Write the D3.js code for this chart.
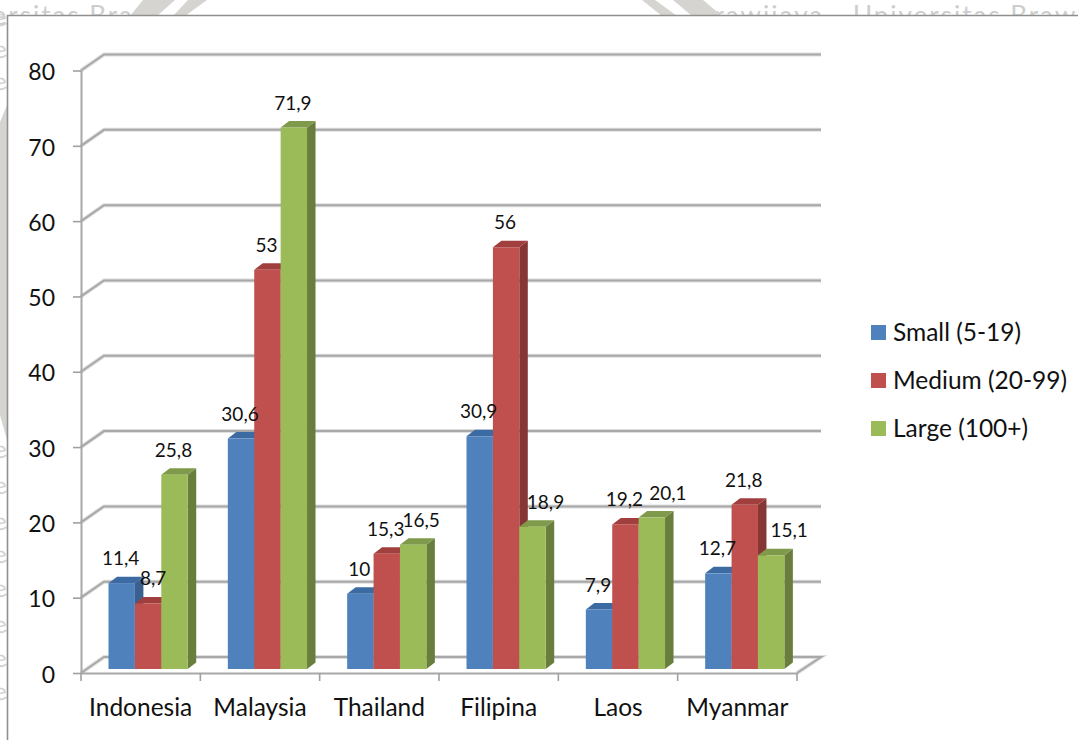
<!DOCTYPE html>
<html>
<head>
<meta charset="utf-8">
<title>Firm size by country</title>
<script src="https://cdn.jsdelivr.net/npm/d3@7"></script>
<style>
  html, body { margin: 0; padding: 0; background: #fff; }
  svg { display: block; }
  text { font-family: Lato, "Noto Sans", sans-serif; fill: #111; }
</style>
</head>
<body>
<svg id="chart" width="1078" height="740"></svg>
<script>
// Chart values
const categories = ["Indonesia", "Malaysia", "Thailand", "Filipina", "Laos", "Myanmar"];
const seriesNames = ["Small (5-19)", "Medium (20-99)", "Large (100+)"];
const small = [11.4, 30.6, 10, 30.9, 7.9, 12.7];
const medium = [8.7, 53, 15.3, 56, 19.2, 21.8];
const large = [25.8, 71.9, 16.5, 18.9, 20.1, 15.1];
const yTicks = [0, 10, 20, 30, 40, 50, 60, 70, 80];

// Fill colours for the front, top and side of each column
const frontColors = ["#4f81bd", "#c0504d", "#9bbb59"];
const topColors = ["#3c6ba3", "#a03f3d", "#7f9a4a"];
const sideColors = ["#39608f", "#863634", "#697d3d"];

const seriesValues = [small, medium, large];
const svg = d3.select("#chart");

// Page furniture behind the chart panel
const furniture = svg.append("g");

[
  ["Universitas Bra", -68],
  ["Brawijaya", 696],
  ["Universitas Brawijaya", 853]
].forEach(([t, x]) => furniture.append("text")
  .attr("x", x).attr("y", 24.5)
  .attr("font-size", 26)
  .attr("letter-spacing", 2)
  .style("fill", "#cdcdcd")
  .text(t));

const bandColor = "#d6d4d1";
[
  [[130, 16], [157, 16], [175, 0], [143, 0]],
  [[173, 16], [185, 16], [207, 0], [188, 0]],
  [[642, 0], [655, 0], [677, 16], [662, 16]],
  [[673, 0], [703, 0], [722, 16], [692, 16]],
  [[0, 122], [7, 105], [7, 440], [0, 415]]
].forEach(p => furniture.append("polygon").attr("points", p.join(" ")).attr("fill", bandColor));

[26, 58, 90, 458, 494, 530, 563, 597, 633, 667, 700].forEach(y =>
  furniture.append("text")
    .attr("transform", `translate(2,${y}) rotate(-12)`)
    .attr("text-anchor", "middle")
    .attr("font-size", 24)
    .style("fill", "#d2d2d2")
    .text("e"));

// Chart panel, open at the right and bottom edges
svg.append("rect").attr("x", 7).attr("y", 15).attr("width", 1071).attr("height", 725).attr("fill", "#fff");
svg.append("path")
  .attr("d", "M7.5,740V15.5H1078")
  .attr("fill", "none")
  .attr("stroke", "#8f8f8f")
  .attr("stroke-width", 1.6);

// Scales: the front plane of the axis box, plus an offset for its back wall
const plotLeft = 81, plotRight = 797, plotZero = 673, plotTop = 70.5;
const wallDx = 23, wallDy = 16;
const columnLift = 4;
const groupInset = 27.5, groupWidth = 79.2;
const depthX = 8.5, depthY = 6.5;

const x0 = d3.scaleBand().domain(categories).range([plotLeft, plotRight]);
const x1 = d3.scaleBand().domain(seriesNames).range([groupInset, groupInset + groupWidth]);
const y = d3.scaleLinear().domain([0, 80]).range([plotZero, plotTop]);

// Back-wall grid lines with the short slanted return to the axis
const grid = svg.append("g").attr("fill", "none");
const gridPath = v => {
  const p = d3.path();
  p.moveTo(plotLeft, y(v));
  p.lineTo(plotLeft + wallDx, y(v) - wallDy);
  p.lineTo(plotRight + wallDx + 1, y(v) - wallDy);
  if (v === 0) p.lineTo(plotRight, y(v));
  return p.toString();
};
[["#dedede", 4], ["#a8a8a8", 2]].forEach(([color, width]) => {
  grid.selectAll(null).data(yTicks).join("path")
    .attr("d", gridPath)
    .attr("stroke", color)
    .attr("stroke-width", width);
});

// Axes
const valueFont = 23, nameFont = 24.5, labelFont = 19;
const styleAxis = (g, size) => {
  g.selectAll(".domain").attr("stroke", "#a8a8a8").attr("stroke-width", 2);
  g.selectAll(".tick line").attr("stroke", "#a0a0a0").attr("stroke-width", 1.6);
  g.selectAll("text").attr("font-size", size).style("font-family", "Lato, sans-serif").style("fill", "#111");
};

const yAxis = svg.append("g")
  .attr("transform", `translate(${plotLeft},0)`)
  .call(d3.axisLeft(y).tickValues(yTicks).tickSize(8).tickPadding(18).tickSizeOuter(0))
  .call(styleAxis, valueFont);
yAxis.selectAll("text").attr("dy", "0.4em");

const xAxis = svg.append("g")
  .attr("transform", `translate(0,${plotZero})`)
  .call(d3.axisBottom(x0).tickSize(0).tickPadding(26))
  .call(styleAxis, nameFont);
xAxis.selectAll(".tick line").remove();
xAxis.selectAll(null)
  .data(categories.concat("end"))
  .join("line")
  .attr("x1", (d, i) => plotLeft + i * x0.step())
  .attr("x2", (d, i) => plotLeft + i * x0.step())
  .attr("y1", 0).attr("y2", 8)
  .attr("stroke", "#a0a0a0").attr("stroke-width", 1.6);

// Columns: each one is a front face with a top and side in perspective
const rows = seriesNames.map((name, s) => categories.map((cat, c) => ({
  cat, name, s, value: seriesValues[s][c]
})));
const columnX = d => x0(d.cat) + x1(d.name);
const columnTop = d => y(d.value) - columnLift;
const columnBase = y(0) - columnLift;
const w = x1.bandwidth();

const columns = svg.append("g");
rows.flat().forEach(d => {
  const g = columns.append("g");
  const l = columnX(d), t = columnTop(d), r = l + w;
  g.append("polygon")
    .attr("points", [[r, t], [r + depthX, t - depthY], [r + depthX, columnBase - depthY], [r, columnBase]].join(" "))
    .attr("fill", sideColors[d.s]);
  g.append("polygon")
    .attr("points", [[l, t], [l + depthX, t - depthY], [r + depthX, t - depthY], [r, t]].join(" "))
    .attr("fill", topColors[d.s]);
  g.append("rect")
    .attr("x", l).attr("y", t)
    .attr("width", w).attr("height", columnBase - t)
    .attr("fill", frontColors[d.s]);
});

// Value labels with a decimal comma; a few are pushed sideways to clear their neighbours
const labelShift = new Map([
  ["Indonesia|Medium (20-99)", 6],
  ["Thailand|Large (100+)", 9],
  ["Filipina|Large (100+)", 14],
  ["Laos|Large (100+)", 17],
  ["Myanmar|Large (100+)", 19]
]);
svg.append("g").selectAll("text")
  .data(rows.flat())
  .join("text")
  .attr("x", d => columnX(d) + w / 2 - 1 + (labelShift.get(d.cat + "|" + d.name) || 0))
  .attr("y", d => columnTop(d) - 18)
  .attr("text-anchor", "middle")
  .attr("font-size", labelFont)
  .text(d => String(d.value).replace(".", ","));

// Legend
const legend = svg.append("g").attr("transform", "translate(871,325)");
const legendRow = legend.selectAll("g").data(seriesNames).join("g")
  .attr("transform", (d, i) => `translate(0,${i * 48})`);
legendRow.append("rect").attr("width", 15).attr("height", 15).attr("fill", (d, i) => frontColors[i]);
legendRow.append("text").attr("x", 22).attr("y", 16).attr("font-size", nameFont).text(d => d);
</script>
</body>
</html>
